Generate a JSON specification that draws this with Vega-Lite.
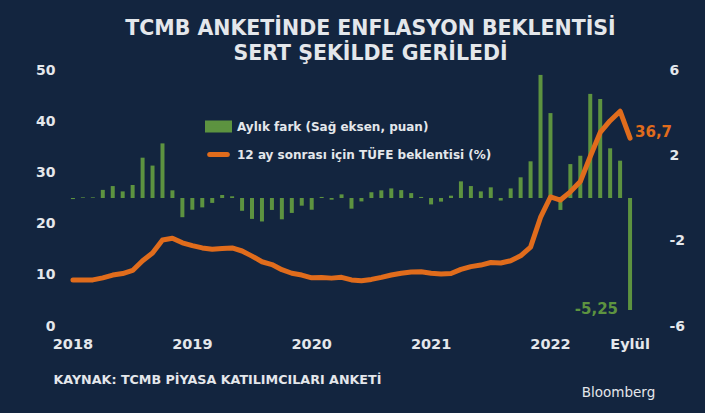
{
  "$schema": "https://vega.github.io/schema/vega-lite/v6.json",
  "width": 577,
  "height": 256,
  "autosize": {"type": "none"},
  "padding": {"left": 63, "top": 70, "right": 65, "bottom": 87},
  "background": "#13253f",
  "title": {
    "text": ["TCMB ANKETİNDE ENFLASYON BEKLENTİSİ", "SERT ŞEKİLDE GERİLEDİ"],
    "font": "DejaVu Sans",
    "fontSize": 20.5,
    "fontWeight": "bold",
    "color": "#e4e7eb",
    "anchor": "middle",
    "frame": "group",
    "dx": 19,
    "lineHeight": 24.5,
    "offset": -1
  },
  "data": {
    "values": [
      {"ay": "2018-01", "fark": -0.05, "tufe": 9.0},
      {"ay": "2018-02", "fark": 0.03, "tufe": 9.0},
      {"ay": "2018-03", "fark": 0.03, "tufe": 9.0},
      {"ay": "2018-04", "fark": 0.38, "tufe": 9.4},
      {"ay": "2018-05", "fark": 0.56, "tufe": 9.95},
      {"ay": "2018-06", "fark": 0.31, "tufe": 10.25},
      {"ay": "2018-07", "fark": 0.61, "tufe": 10.85},
      {"ay": "2018-08", "fark": 1.89, "tufe": 12.75},
      {"ay": "2018-09", "fark": 1.52, "tufe": 14.25},
      {"ay": "2018-10", "fark": 2.56, "tufe": 16.8},
      {"ay": "2018-11", "fark": 0.36, "tufe": 17.15},
      {"ay": "2018-12", "fark": -0.9, "tufe": 16.25},
      {"ay": "2019-01", "fark": -0.55, "tufe": 15.7},
      {"ay": "2019-02", "fark": -0.44, "tufe": 15.25},
      {"ay": "2019-03", "fark": -0.23, "tufe": 15.0},
      {"ay": "2019-04", "fark": 0.14, "tufe": 15.15},
      {"ay": "2019-05", "fark": 0.08, "tufe": 15.25},
      {"ay": "2019-06", "fark": -0.6, "tufe": 14.65},
      {"ay": "2019-07", "fark": -0.98, "tufe": 13.65},
      {"ay": "2019-08", "fark": -1.1, "tufe": 12.55},
      {"ay": "2019-09", "fark": -0.56, "tufe": 12.0},
      {"ay": "2019-10", "fark": -1.0, "tufe": 11.0},
      {"ay": "2019-11", "fark": -0.7, "tufe": 10.3},
      {"ay": "2019-12", "fark": -0.36, "tufe": 9.95},
      {"ay": "2020-01", "fark": -0.55, "tufe": 9.4},
      {"ay": "2020-02", "fark": 0.05, "tufe": 9.45},
      {"ay": "2020-03", "fark": -0.08, "tufe": 9.35},
      {"ay": "2020-04", "fark": 0.17, "tufe": 9.5},
      {"ay": "2020-05", "fark": -0.5, "tufe": 9.0},
      {"ay": "2020-06", "fark": -0.16, "tufe": 8.85},
      {"ay": "2020-07", "fark": 0.27, "tufe": 9.1},
      {"ay": "2020-08", "fark": 0.36, "tufe": 9.5},
      {"ay": "2020-09", "fark": 0.45, "tufe": 9.95},
      {"ay": "2020-10", "fark": 0.37, "tufe": 10.3},
      {"ay": "2020-11", "fark": 0.23, "tufe": 10.55},
      {"ay": "2020-12", "fark": 0.05, "tufe": 10.6},
      {"ay": "2021-01", "fark": -0.3, "tufe": 10.3},
      {"ay": "2021-02", "fark": -0.17, "tufe": 10.15},
      {"ay": "2021-03", "fark": 0.11, "tufe": 10.25},
      {"ay": "2021-04", "fark": 0.78, "tufe": 11.05},
      {"ay": "2021-05", "fark": 0.56, "tufe": 11.6},
      {"ay": "2021-06", "fark": 0.31, "tufe": 11.9},
      {"ay": "2021-07", "fark": 0.5, "tufe": 12.4},
      {"ay": "2021-08", "fark": -0.12, "tufe": 12.3},
      {"ay": "2021-09", "fark": 0.45, "tufe": 12.75},
      {"ay": "2021-10", "fark": 0.97, "tufe": 13.7},
      {"ay": "2021-11", "fark": 1.72, "tufe": 15.4},
      {"ay": "2021-12", "fark": 5.77, "tufe": 21.2},
      {"ay": "2022-01", "fark": 3.98, "tufe": 25.2},
      {"ay": "2022-02", "fark": -0.56, "tufe": 24.6},
      {"ay": "2022-03", "fark": 1.59, "tufe": 26.2},
      {"ay": "2022-04", "fark": 1.98, "tufe": 28.2},
      {"ay": "2022-05", "fark": 4.88, "tufe": 33.1},
      {"ay": "2022-06", "fark": 4.64, "tufe": 37.8},
      {"ay": "2022-07", "fark": 2.33, "tufe": 40.1},
      {"ay": "2022-08", "fark": 1.75, "tufe": 41.95},
      {"ay": "2022-09", "fark": -5.25, "tufe": 36.7}
    ]
  },
  "encoding": {
    "x": {
      "field": "ay",
      "type": "ordinal",
      "sort": null,
      "scale": {"paddingInner": 0, "paddingOuter": 0.5},
      "axis": {
        "values": ["2018-01", "2019-01", "2020-01", "2021-01", "2022-01", "2022-09"],
        "labelExpr": "datum.value == '2022-09' ? 'Eylül' : slice(datum.value, 0, 4)",
        "labelAngle": 0,
        "labelPadding": 11,
        "labelFontSize": 14.5,
        "domain": false,
        "ticks": false,
        "grid": false,
        "title": "KAYNAK: TCMB PİYASA KATILIMCILARI ANKETİ",
        "titleX": -10,
        "titleY": 53,
        "titleAlign": "left",
        "titleBaseline": "middle",
        "titleFontSize": 12.7
      }
    }
  },
  "layer": [
    {
      "mark": {"type": "bar", "size": 4},
      "encoding": {
        "y": {
          "field": "fark",
          "type": "quantitative",
          "scale": {"domain": [-6, 6], "nice": false},
          "axis": {
            "orient": "right",
            "values": [-6, -2, 2, 6],
            "labelAlign": "left",
            "labelPadding": 29,
            "domain": false,
            "ticks": false,
            "grid": false,
            "title": "Bloomberg",
            "titleAngle": 0,
            "titleX": -22,
            "titleY": 322,
            "titleAlign": "center",
            "titleBaseline": "middle",
            "titleFontWeight": "normal",
            "titleFontSize": 13.5
          }
        },
        "color": {
          "datum": "Aylık fark (Sağ eksen, puan)",
          "scale": {
            "domain": ["Aylık fark (Sağ eksen, puan)", "12 ay sonrası için TÜFE beklentisi (%)"],
            "range": ["#5d9340", "#e06c1c"]
          },
          "legend": {
            "orient": "none",
            "legendX": 142,
            "legendY": 43,
            "title": null,
            "symbolSize": 484,
            "rowPadding": -3,
            "labelOffset": 5,
            "labelLimit": 400,
            "encode": {
              "symbols": {
                "update": {
                  "shape": {"signal": "datum.value === 'Aylık fark (Sağ eksen, puan)' ? 'M-1,-0.32H1V0.32H-1Z' : 'M-0.8,0H0.8'"},
                  "fill": {"signal": "datum.value === 'Aylık fark (Sağ eksen, puan)' ? '#5d9340' : 'transparent'"},
                  "stroke": {"signal": "datum.value === 'Aylık fark (Sağ eksen, puan)' ? 'transparent' : '#e06c1c'"},
                  "strokeWidth": {"value": 5},
                  "strokeCap": {"value": "round"},
                  "opacity": {"value": 1}
                }
              }
            }
          }
        }
      }
    },
    {
      "mark": {"type": "line", "strokeWidth": 5, "strokeCap": "round", "strokeJoin": "round"},
      "encoding": {
        "y": {
          "field": "tufe",
          "type": "quantitative",
          "scale": {"domain": [0, 50], "nice": false},
          "axis": {
            "orient": "left",
            "values": [0, 10, 20, 30, 40, 50],
            "labelPadding": 8,
            "domain": false,
            "ticks": false,
            "grid": false,
            "title": null
          }
        },
        "color": {"datum": "12 ay sonrası için TÜFE beklentisi (%)"}
      }
    },
    {
      "transform": [{"filter": "datum.ay == '2022-09'"}],
      "mark": {"type": "text", "align": "left", "baseline": "middle", "dx": 5, "dy": -6, "font": "DejaVu Sans", "fontWeight": "bold", "fontSize": 15, "color": "#e06c1c"},
      "encoding": {
        "y": {"field": "tufe", "type": "quantitative", "scale": {"domain": [0, 50], "nice": false}, "axis": null},
        "text": {"field": "tufe", "type": "quantitative", "format": ".1f"}
      }
    },
    {
      "transform": [{"filter": "datum.ay == '2022-09'"}],
      "mark": {"type": "text", "align": "right", "baseline": "middle", "dx": -12, "dy": -1, "font": "DejaVu Sans", "fontWeight": "bold", "fontSize": 15, "color": "#5d9340"},
      "encoding": {
        "y": {"field": "fark", "type": "quantitative", "scale": {"domain": [-6, 6], "nice": false}, "axis": null},
        "text": {"field": "fark", "type": "quantitative", "format": ".2f"}
      }
    }
  ],
  "resolve": {"scale": {"y": "independent"}},
  "config": {
    "view": {"stroke": null},
    "locale": {
      "number": {"decimal": ",", "thousands": ".", "grouping": [3], "currency": ["₺", ""], "minus": "-"}
    },
    "axis": {
      "labelFont": "DejaVu Sans",
      "labelFontWeight": "bold",
      "labelFontSize": 14,
      "labelColor": "#e4e7eb",
      "titleFont": "DejaVu Sans",
      "titleFontWeight": "bold",
      "titleColor": "#e4e7eb"
    },
    "legend": {
      "labelFont": "DejaVu Sans",
      "labelFontWeight": "bold",
      "labelFontSize": 12,
      "labelColor": "#e4e7eb"
    }
  }
}
